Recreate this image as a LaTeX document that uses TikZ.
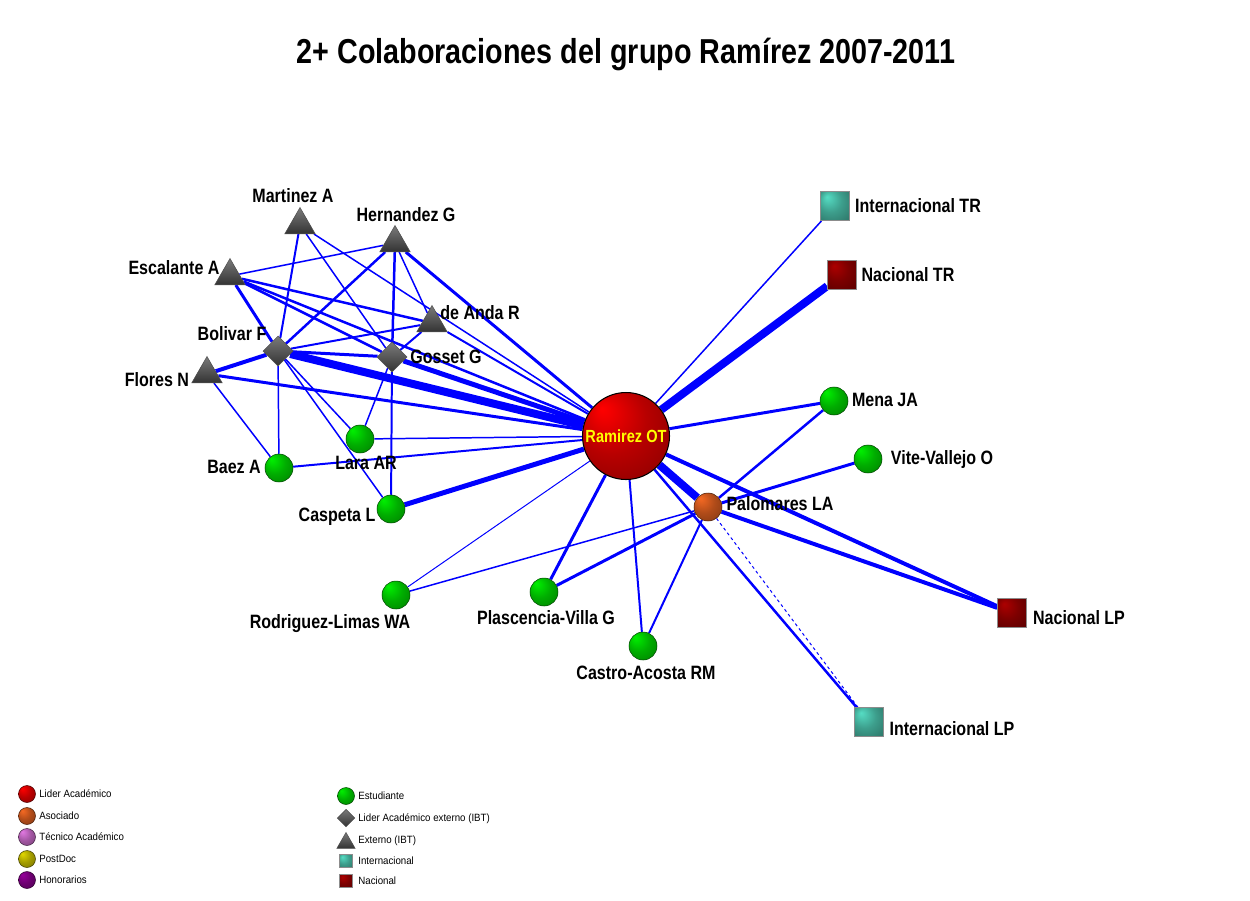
\documentclass[tikz,border=0pt]{standalone}
\usepackage{fontspec}
\setmainfont{Liberation Sans}
\newfontfamily\angosta[FakeStretch=0.83]{Liberation Sans}
\newfontfamily\leyenda[FakeStretch=0.92]{Liberation Sans}
\usetikzlibrary{shapes.geometric, backgrounds}

% Colores
\definecolor{azul}{RGB}{0,0,255}
\definecolor{amarillo}{RGB}{255,255,0}
\definecolor{rojo}{RGB}{255,0,0}
\definecolor{verde}{RGB}{0,240,0}
\definecolor{naranja}{RGB}{245,105,35}
\definecolor{rosa}{RGB}{225,120,225}
\definecolor{olivo}{RGB}{225,215,0}
\definecolor{morado}{RGB}{150,0,155}
\definecolor{turquesa}{RGB}{85,220,195}
\definecolor{guinda}{RGB}{172,0,0}
\colorlet{colbola}{rojo}

% Sombreado de esferas y cuadros
\pgfdeclareradialshading[colbola]{esfera}{\pgfpoint{-14bp}{16bp}}{%
  color(0bp)=(colbola); color(4bp)=(colbola!95!black);
  color(20bp)=(colbola!72!black); color(38bp)=(colbola!55!black);
  color(50bp)=(colbola!42!black)}

\begin{document}
\begin{tikzpicture}[x=0.02cm, y=-0.02cm,
    sombra/.style={shading=esfera, /utils/exec={\colorlet{colbola}{#1}}},
    esf/.style={circle, sombra=#1, draw=#1!30!black, line width=0.3pt,
      minimum size=0.56cm, inner sep=0pt},
    cuadro/.style={rectangle, sombra=#1, draw=black!45, line width=0.4pt,
      minimum size=0.58cm, inner sep=0pt},
    triang/.style={regular polygon, regular polygon sides=3, inner sep=0pt,
      minimum size=0.7cm, top color=black!52, bottom color=black!80,
      draw=black!70, line width=0.3pt},
    rombo/.style={diamond, inner sep=0pt, minimum size=0.6cm,
      top color=black!52, bottom color=black!80, draw=black!70, line width=0.3pt},
    etiqueta/.style={font=\angosta\bfseries\fontsize{11}{13}\selectfont,
      inner sep=0pt, text height=7.9pt, text depth=0pt},
    ley/.style={font=\leyenda\fontsize{6}{7}\selectfont, anchor=west,
      inner sep=0pt, text height=4.3pt, text depth=0pt},
    enlace/.style={draw=azul, line width=#1*0.567pt}]

  \useasboundingbox (0,0) rectangle (1250,900);

  % Titulo
  \node[font=\angosta\bfseries\fontsize{19.7}{24}\selectfont, inner sep=0pt,
    text height=14.1pt, text depth=0pt] (titulo) at (626,51)
    {2+ Colaboraciones del grupo Ramírez 2007-2011};

  % Lider academico
  \node[esf=rojo, minimum size=1.74cm, draw=black, line width=0.6pt, text=amarillo,
    font=\angosta\bfseries\fontsize{10}{12}\selectfont] (Ramirez) at (626,436) {Ramirez OT};

  % Externos (IBT)
  \node[triang] (Martinez) at (300,225) {};
  \node[triang] (Hernandez) at (395,243) {};
  \node[triang] (Escalante) at (230,276) {};
  \node[triang] (deAnda) at (432,323) {};
  \node[triang] (Flores) at (207,374) {};

  % Lideres academicos externos
  \node[rombo] (Bolivar) at (278,351) {};
  \node[rombo] (Gosset) at (392,357) {};

  % Estudiantes y asociado
  \node[esf=verde] (Lara) at (360,439) {};
  \node[esf=verde] (Baez) at (279,468) {};
  \node[esf=verde] (Caspeta) at (391,509) {};
  \node[esf=verde] (Rodriguez) at (396,595) {};
  \node[esf=verde] (Plascencia) at (544,592) {};
  \node[esf=verde] (Castro) at (643,646) {};
  \node[esf=verde] (Mena) at (834,401) {};
  \node[esf=verde] (Vite) at (868,459) {};
  \node[esf=naranja] (Palomares) at (708,507) {};

  % Internacionales y nacionales
  \node[cuadro=turquesa] (IntTR) at (835,206) {};
  \node[cuadro=guinda] (NacTR) at (842,275) {};
  \node[cuadro=guinda] (NacLP) at (1012,613) {};
  \node[cuadro=turquesa] (IntLP) at (869,722) {};

  % Nombres
  \node[etiqueta] (tMartinez) at (293,196) {Martinez A};
  \node[etiqueta] (tHernandez) at (406,215) {Hernandez G};
  \node[etiqueta] (tEscalante) at (174,268) {Escalante A};
  \node[etiqueta] (tdeAnda) at (480,313) {de Anda R};
  \node[etiqueta] (tBolivar) at (232,334) {Bolivar F};
  \node[etiqueta] (tGosset) at (446,357) {Gosset G};
  \node[etiqueta] (tFlores) at (157,380) {Flores N};
  \node[etiqueta] (tLara) at (366,463) {Lara AR};
  \node[etiqueta] (tBaez) at (234,467) {Baez A};
  \node[etiqueta] (tCaspeta) at (337,515) {Caspeta L};
  \node[etiqueta] (tRodriguez) at (330,622) {Rodriguez-Limas WA};
  \node[etiqueta] (tPlascencia) at (546,618) {Plascencia-Villa G};
  \node[etiqueta] (tCastro) at (646,673) {Castro-Acosta RM};
  \node[etiqueta] (tPalomares) at (780,504) {Palomares LA};
  \node[etiqueta] (tMena) at (885,400) {Mena JA};
  \node[etiqueta] (tVite) at (942,458) {Vite-Vallejo O};
  \node[etiqueta] (tIntTR) at (918,206) {Internacional TR};
  \node[etiqueta] (tNacTR) at (908,275) {Nacional TR};
  \node[etiqueta] (tNacLP) at (1079,618) {Nacional LP};
  \node[etiqueta] (tIntLP) at (952,729) {Internacional LP};

  % Colaboraciones
  \begin{scope}[on background layer]
    \draw[enlace=2] (Martinez) -- (Bolivar);
    \draw[enlace=1.5] (Martinez) -- (Gosset);
    \draw[enlace=1.5] (Martinez) -- (Ramirez);
    \draw[enlace=1.5] (Hernandez) -- (Escalante);
    \draw[enlace=2.5] (Hernandez) -- (Bolivar);
    \draw[enlace=2.5] (Hernandez) -- (Gosset);
    \draw[enlace=1.5] (Hernandez) -- (deAnda);
    \draw[enlace=3] (Hernandez) -- (Ramirez);
    \draw[enlace=3] (Escalante) -- (Bolivar);
    \draw[enlace=2.5] (Escalante) -- (deAnda);
    \draw[enlace=2.5] (Escalante) -- (Gosset);
    \draw[enlace=2.5] (Escalante) -- (Ramirez);
    \draw[enlace=2] (Bolivar) -- (deAnda);
    \draw[enlace=3] (Bolivar) -- (Gosset);
    \draw[enlace=4] (Bolivar) -- (Flores);
    \draw[enlace=8] (Bolivar) -- (Ramirez);
    \draw[enlace=1.5] (Bolivar) -- (Baez);
    \draw[enlace=1.5] (Bolivar) -- (Lara);
    \draw[enlace=1.5] (Bolivar) -- (Caspeta);
    \draw[enlace=3] (Flores) -- (Ramirez);
    \draw[enlace=1.5] (Flores) -- (Baez);
    \draw[enlace=2] (Gosset) -- (deAnda);
    \draw[enlace=5] (Gosset) -- (Ramirez);
    \draw[enlace=1.5] (Gosset) -- (Lara);
    \draw[enlace=2] (Gosset) -- (Caspeta);
    \draw[enlace=2] (deAnda) -- (Ramirez);
    \draw[enlace=1.5] (Lara) -- (Ramirez);
    \draw[enlace=2] (Baez) -- (Ramirez);
    \draw[enlace=5] (Caspeta) -- (Ramirez);
    \draw[enlace=1] (Rodriguez) -- (Ramirez);
    \draw[enlace=1.5] (Rodriguez) -- (Palomares);
    \draw[enlace=3] (Plascencia) -- (Ramirez);
    \draw[enlace=3] (Plascencia) -- (Palomares);
    \draw[enlace=2] (Castro) -- (Ramirez);
    \draw[enlace=2] (Castro) -- (Palomares);
    \draw[enlace=8] (Palomares) -- (Ramirez);
    \draw[enlace=2.5] (Palomares) -- (Mena);
    \draw[enlace=3] (Palomares) -- (Vite);
    \draw[enlace=4] (Palomares) -- (NacLP);
    \draw[enlace=1, dash pattern=on 1.7pt off 1.7pt] (Palomares) -- (IntLP);
    \draw[enlace=1.5] (Ramirez) -- (IntTR);
    \draw[enlace=8] (Ramirez) -- (NacTR);
    \draw[enlace=3] (Ramirez) -- (Mena);
    \draw[enlace=4] (Ramirez) -- (NacLP);
    \draw[enlace=2.5] (Ramirez) -- (IntLP);
  \end{scope}

  % Leyenda
  \node[esf=rojo, minimum size=0.34cm] (l1) at (27,794) {};
  \node[esf=naranja, minimum size=0.34cm] (l2) at (27,816) {};
  \node[esf=rosa, minimum size=0.34cm] (l3) at (27,837) {};
  \node[esf=olivo, minimum size=0.34cm] (l4) at (27,859) {};
  \node[esf=morado, minimum size=0.34cm] (l5) at (27,880) {};
  \node[ley] (tl1) at (39,794) {Lider Académico};
  \node[ley] (tl2) at (39,816) {Asociado};
  \node[ley] (tl3) at (39,837) {Técnico Académico};
  \node[ley] (tl4) at (39,859) {PostDoc};
  \node[ley] (tl5) at (39,880) {Honorarios};

  \node[esf=verde, minimum size=0.34cm] (l6) at (346,796) {};
  \node[rombo, minimum size=0.35cm] (l7) at (346,818) {};
  \node[triang, minimum size=0.42cm] (l8) at (346,843) {};
  \node[cuadro=turquesa, minimum size=0.27cm] (l9) at (346,861) {};
  \node[cuadro=guinda, minimum size=0.27cm] (l10) at (346,881) {};
  \node[ley] (tl6) at (358,796) {Estudiante};
  \node[ley] (tl7) at (358,818) {Lider Académico externo (IBT)};
  \node[ley] (tl8) at (358,840) {Externo (IBT)};
  \node[ley] (tl9) at (358,861) {Internacional};
  \node[ley] (tl10) at (358,881) {Nacional};
\end{tikzpicture}
\end{document}
